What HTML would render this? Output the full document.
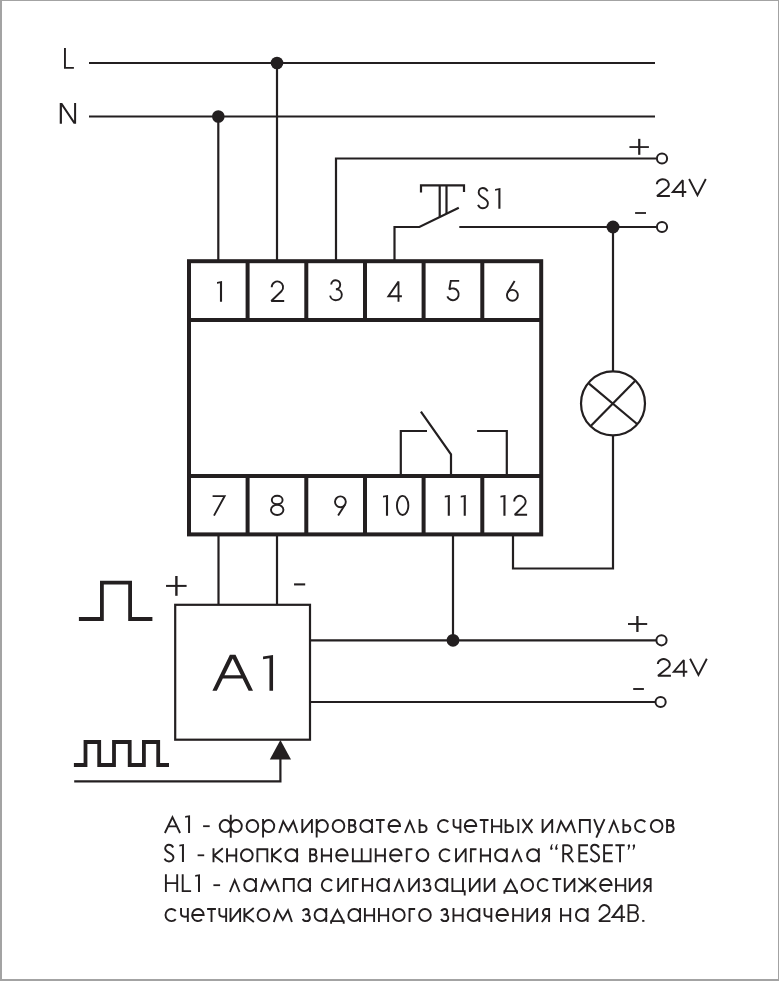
<!DOCTYPE html>
<html><head><meta charset="utf-8">
<style>
html,body{margin:0;padding:0;background:#fff;}
body{width:779px;height:981px;overflow:hidden;position:relative;}
svg{position:absolute;left:0;top:0;}
text{font-family:"Liberation Sans",sans-serif;fill:#231f20;stroke:#fff;}
.g{fill:#231f20;stroke:none;}
</style></head>
<body>
<svg width="779" height="981" viewBox="0 0 779 981">
<rect x="0" y="0" width="779" height="981" fill="#fff"/>
<rect x="0" y="0" width="2" height="981" fill="#a3a3a3"/>
<rect x="0" y="0" width="779" height="1" fill="#a3a3a3"/>
<rect x="778" y="0" width="1" height="981" fill="#a3a3a3"/>
<rect x="0" y="979" width="779" height="2" fill="#a3a3a3"/>
<g fill="none" stroke="#231f20" stroke-width="2.2" stroke-linecap="butt" stroke-linejoin="miter">
  <path d="M89 63 H655"/>
  <path d="M89 116.5 H655"/>
  <path d="M218.3 116.5 V261"/>
  <path d="M277 63 V261"/>
  <path d="M336 261 V158.5 H656"/>
  <path d="M394.5 261 V227 H419.4 L458.8 207.8"/>
  <path d="M421 192.4 V185.3 H464 V192"/>
  <path d="M439.7 185.3 V216.7"/>
  <path d="M446.5 185.3 V213.6"/>
  <path d="M459.3 227 H656"/>
  <path d="M613 227 V371"/>
  <path d="M613 436 V568.5 H513 V535"/>
  <circle cx="613" cy="403.4" r="32"/>
  <path d="M589 383.6 L637.7 424.5"/>
  <path d="M635 381 L591 425.7"/>
  <path d="M400.8 476 V431 H427"/>
  <path d="M451 476 V454.3 L420.9 411.7"/>
  <path d="M477.1 431 H506.8 V476"/>
  <path d="M218.5 534 V605"/>
  <path d="M277 534 V605"/>
  <rect x="175.2" y="604.8" width="134.8" height="134.9"/>
  <path d="M453 534 V640.3"/>
  <path d="M310 640.3 H656"/>
  <path d="M310 702 H655"/>
  <path d="M74.2 781.4 H280.4 V759"/>
  <circle cx="662" cy="158.5" r="5.1" stroke-width="2"/>
  <circle cx="662" cy="227" r="5.1" stroke-width="2"/>
  <circle cx="661.5" cy="640.3" r="5.1" stroke-width="2"/>
  <circle cx="660.6" cy="702" r="5.1" stroke-width="2"/>
  <path d="M78.9 619 H101.9 V582.6 H130.1 V619 H152.4" stroke-width="3.8"/>
  <path d="M73.9 765 H85.5 V742 H99.2 V765 H114 V742 H129.7 V765 H143.9 V742 H158.2 V765 H169" stroke-width="3.8"/>
</g>
<g fill="none" stroke="#231f20" stroke-width="4">
  <rect x="189" y="261.2" width="352.2" height="273.2"/>
  <path d="M189 320 H541.2 M189 476 H541.2"/>
  <path d="M247.6 261 V320 M306.3 261 V320 M365 261 V320 M423.6 261 V320 M482.3 261 V320"/>
  <path d="M247.6 476 V534 M306.3 476 V534 M365 476 V534 M423.6 476 V534 M482.3 476 V534"/>
</g>
<g fill="#231f20">
  <circle cx="277" cy="63" r="6.3"/>
  <circle cx="218.3" cy="116.5" r="6.3"/>
  <circle cx="613" cy="227" r="6.5"/>
  <circle cx="453" cy="640.3" r="6.4"/>
  <path d="M280.4 740 L269.8 759.5 L291 759.5 Z"/>
</g>
<g fill="none" stroke="#231f20" stroke-width="1.9" stroke-linecap="butt" stroke-linejoin="miter" stroke-miterlimit="2.5">

<path d="M64.95 48.04 V67.85 H73.9"/>
<path d="M271.7 287.2 A5.7 5.7 0 1 1 281.4 291.2 L271.3 301 H284.2"/>
<path d="M331.2 284.5 A4.5 4.5 0 1 1 335.9 289.2 A5.9 5.5 0 1 1 330.1 295.6"/>
<path d="M398.5 301.7 V281.6 L388.4 296.2 H401.9"/>
<path d="M459.2 280.85 H450.8 L449.3 289.5 A5.9 5.9 0 1 1 447.3 296.4"/>
<path d="M514.6 280.9 L507.6 292.6"/><circle cx="512.4" cy="295.3" r="5.45"/>
<path d="M212.6 496.1 H224.6 L214 515.6"/>
<ellipse cx="277.2" cy="500.05" rx="5.4" ry="4.25"/><ellipse cx="277.2" cy="509.9" rx="6.2" ry="5.1"/>
<circle cx="340.4" cy="501.8" r="5.4"/><path d="M345.1 504.5 L338.1 515.6"/>
<ellipse cx="402.65" cy="505.4" rx="5.7" ry="9.55"/>
<path d="M514.2 501.55 A5.7 5.7 0 1 1 523.93 505.58 L514.76 514.75 H527.1"/>
<path d="M487.6 191.3 C486.6 189.1 484.8 188 482.8 188 C480.4 188 478.7 189.9 478.7 192.4 C478.7 198.2 487.9 197.6 487.9 203.3 C487.9 206.2 485.7 208.3 482.9 208.3 C480.7 208.3 478.9 206.9 478 204.9"/>
<g id="v24">
<path d="M656.8 184.2 A6 5.1 0 1 1 667.04 188 L657.0 195.95 H669.9"/>
<path d="M682.8 197 V180.2 L672.8 191.95 H686.3"/>
<path d="M689.1 179 L697.45 195.2 L705.8 179"/>
</g>
<use href="#v24" transform="translate(1 479.8)"/>
<path d="M629.43 147.05 H648.9" stroke-width="1.8"/><path d="M639.25 138.85 V154.8" stroke-width="2.2"/>
<path d="M635.1 213 H646" stroke-width="1.8"/>
<path d="M627.97 624 H647.2" stroke-width="1.9"/><path d="M637.4 615.97 V631.95" stroke-width="2.3"/>
<path d="M633.2 689 H643.9" stroke-width="1.9"/>
<path d="M166.04 585.9 H186.6" stroke-width="2.0"/><path d="M176.4 575.97 V595.8" stroke-width="2.4"/>
<path d="M294.05 584.4 H305.2" stroke-width="2.1"/>
<path d="M203.1 826.2 H209.7" stroke-width="1.8"/>
<path d="M197.6 855.3 H204.2" stroke-width="1.8"/>
<path d="M213.4 885.2 H220.1" stroke-width="1.8"/>

</g>
<g>
<path class="g" d="M222.05 281.10 L222.05 301.75 L219.95 301.75 L219.95 283.20 L217.00 283.76 L217.00 282.03 Z"/>
<path class="g" d="M388.05 494.90 L388.05 515.70 L385.95 515.70 L385.95 497.00 L383.00 497.56 L383.00 495.84 Z"/>
<path class="g" d="M449.85 494.90 L449.85 515.70 L447.75 515.70 L447.75 497.00 L444.80 497.56 L444.80 495.84 Z"/>
<path class="g" d="M465.80 494.90 L465.80 515.70 L463.70 515.70 L463.70 497.00 L460.75 497.56 L460.75 495.84 Z"/>
<path class="g" d="M505.50 494.90 L505.50 515.70 L503.40 515.70 L503.40 497.00 L500.45 497.56 L500.45 495.84 Z"/>
<path class="g" d="M500.45 188.00 L500.45 208.75 L498.35 208.75 L498.35 190.10 L495.10 190.66 L495.10 188.93 Z"/>
<path class="g" d="M273.05 654.90 L273.05 690.70 L269.45 690.70 L269.45 658.30 L263.05 659.26 L263.05 656.50 Z"/>
<path class="g" d="M190.05 815.20 L190.05 832.90 L188.05 832.90 L188.05 817.20 L185.15 817.68 L185.15 816.00 Z"/>
<path class="g" d="M183.95 843.90 L183.95 862.00 L181.95 862.00 L181.95 845.90 L179.35 846.39 L179.35 844.71 Z"/>
<path class="g" d="M200.00 874.20 L200.00 891.90 L198.00 891.90 L198.00 876.20 L195.20 876.68 L195.20 875.00 Z"/>
<path class="g" d="M59.74 123.64 L59.74 103.04 L62.2 103.04 L74.1 120.7 L74.1 103.04 L76.1 103.04 L76.1 123.64 L73.66 123.64 L61.93 106.3 L61.93 123.64 Z"/>
<path class="g" d="M212.4 690.7 L229.9 654.75 L235.5 654.75 L253 690.7 L248.6 690.7 L232.7 658.6 L216.8 690.7 Z M223.6 675.2 L241.8 675.2 L243.4 678.4 L222.0 678.4 Z"/>
</g>
<g fill="none" stroke="#231f20" stroke-width="1.9" stroke-linecap="butt" stroke-linejoin="miter" stroke-miterlimit="3">
<path transform="translate(164 833)" d="M 0.9 0 L 8.47 -15.8 L 16.05 0 M 3.73 -6.59 H 13.22"/>
<path transform="translate(218.8 833)" d="M 0.9 -6.95 A 5.52 6.05 0 1 1 11.95 -6.95 A 5.52 6.05 0 1 1 0.9 -6.95 Z M 11.95 -6.95 A 5.52 6.05 0 1 1 23 -6.95 A 5.52 6.05 0 1 1 11.95 -6.95 Z M 11.95 4.8 V -18.2"/>
<path transform="translate(245.68 833)" d="M 0.9 -6.95 A 5.85 6.05 0 1 1 12.6 -6.95 A 5.85 6.05 0 1 1 0.9 -6.95 Z"/>
<path transform="translate(262.15 833)" d="M 0.9 -6.95 A 5.6 6.05 0 1 1 12.1 -6.95 A 5.6 6.05 0 1 1 0.9 -6.95 Z M 0.9 4.6 V -13.9"/>
<path transform="translate(278.13 833)" d="M 1.08 0 L 5.08 -11.6 L 10.15 -2.3 L 15.23 -11.6 L 19.22 0"/>
<path transform="translate(301.4 833)" d="M 0.9 0 V -13.9 M 10.5 0 V -13.9 M 0.9 -0.5 L 10.5 -13.4"/>
<path transform="translate(315.78 833)" d="M 0.9 -6.95 A 5.6 6.05 0 1 1 12.1 -6.95 A 5.6 6.05 0 1 1 0.9 -6.95 Z M 0.9 4.6 V -13.9"/>
<path transform="translate(331.75 833)" d="M 0.9 -6.95 A 5.85 6.05 0 1 1 12.6 -6.95 A 5.85 6.05 0 1 1 0.9 -6.95 Z"/>
<path transform="translate(348.23 833)" d="M 0.9 0 V -13.9 M 0.9 -13 H 4.35 A 2.75 2.75 0 0 1 4.35 -7.51 H 0.9 M 0.9 -7.51 H 4.2 A 3.3 3.3 0 0 1 4.2 -0.9 H 0.9"/>
<path transform="translate(359.6 833)" d="M 0.7 -6.95 A 5.95 6.05 0 1 1 12.6 -6.95 A 5.95 6.05 0 1 1 0.7 -6.95 Z M 12.4 0 V -13.9"/>
<path transform="translate(375.88 833)" d="M 0 -13 H 8.8 M 4.4 0 V -13"/>
<path transform="translate(387.65 833)" d="M 0.9 -6.95 H 12.4 A 5.75 6.05 0 1 0 10.72 -2.67"/>
<path transform="translate(403.93 833)" d="M 1.08 0 L 5.9 -11.8 L 10.72 0"/>
<path transform="translate(418.7 833)" d="M 0.9 0 V -13.9 M 0.9 -7.78 H 4.46 A 3.44 3.44 0 0 1 4.46 -0.9 H 0.9"/>
<path transform="translate(437.1 833)" d="M 11.18 -11 A 5.9 6.05 0 1 0 11.18 -2.9"/>
<path transform="translate(452.68 833)" d="M 0.9 -13.9 V -8.4 C 0.9 -6.2 2.4 -5.3 4.6 -5.3 C 6.6 -5.3 7.7 -6 7.7 -6.6 M 7.7 0 V -13.9"/>
<path transform="translate(463.87 833)" d="M 0.9 -6.95 H 12.4 A 5.75 6.05 0 1 0 10.72 -2.67"/>
<path transform="translate(479.75 833)" d="M 0 -13 H 8.8 M 4.4 0 V -13"/>
<path transform="translate(491.13 833)" d="M 0.9 0 V -13.9 M 10.1 0 V -13.9 M 0.9 -6.65 H 10.1"/>
<path transform="translate(504.72 833)" d="M 0.9 0 V -13.9 M 0.9 -7.78 H 4.86 A 3.44 3.44 0 0 1 4.86 -0.9 H 0.9 M 13.6 0 V -13.9"/>
<path transform="translate(521.8 833)" d="M 0.6 -13.9 L 10.6 0 M 10.6 -13.9 L 0.6 0"/>
<path transform="translate(541.7 833)" d="M 0.9 0 V -13.9 M 10.5 0 V -13.9 M 0.9 -0.5 L 10.5 -13.4"/>
<path transform="translate(555.9 833)" d="M 1.08 0 L 5.08 -11.6 L 10.15 -2.3 L 15.23 -11.6 L 19.22 0"/>
<path transform="translate(579 833)" d="M 0.9 0 V -13 H 10.8 V 0"/>
<path transform="translate(593.5 833)" d="M 0.6 -13.9 L 6.03 -0.4 M 11 -13.9 L 2.78 4.6"/>
<path transform="translate(607.9 833)" d="M 1.08 0 L 5.9 -11.8 L 10.72 0"/>
<path transform="translate(622.5 833)" d="M 0.9 0 V -13.9 M 0.9 -7.78 H 4.46 A 3.44 3.44 0 0 1 4.46 -0.9 H 0.9"/>
<path transform="translate(634.1 833)" d="M 11.18 -11 A 5.9 6.05 0 1 0 11.18 -2.9"/>
<path transform="translate(649.9 833)" d="M 0.9 -6.95 A 5.85 6.05 0 1 1 12.6 -6.95 A 5.85 6.05 0 1 1 0.9 -6.95 Z"/>
<path transform="translate(666.2 833)" d="M 0.9 0 V -13.9 M 0.9 -13 H 4.35 A 2.75 2.75 0 0 1 4.35 -7.51 H 0.9 M 0.9 -7.51 H 4.2 A 3.3 3.3 0 0 1 4.2 -0.9 H 0.9"/>
<path transform="translate(163.85 862.2)" d="M 9.32 -14.68 C 8.43 -16.49 6.81 -17.39 5.02 -17.39 C 2.87 -17.39 1.34 -15.83 1.34 -13.78 C 1.34 -9.02 9.59 -9.52 9.59 -4.84 C 9.59 -2.46 7.62 -0.74 5.11 -0.74 C 3.14 -0.74 1.52 -1.89 0.72 -3.53"/>
<path transform="translate(212.6 862.2)" d="M 0.9 0 V -13.9 M 10.2 -13.9 L 1.5 -6.67 L 10.4 0"/>
<path transform="translate(226.14 862.2)" d="M 0.9 0 V -13.9 M 10.1 0 V -13.9 M 0.9 -6.65 H 10.1"/>
<path transform="translate(240.08 862.2)" d="M 0.9 -6.95 A 5.85 6.05 0 1 1 12.6 -6.95 A 5.85 6.05 0 1 1 0.9 -6.95 Z"/>
<path transform="translate(256.52 862.2)" d="M 0.9 0 V -13 H 10.8 V 0"/>
<path transform="translate(271.16 862.2)" d="M 0.9 0 V -13.9 M 10.2 -13.9 L 1.5 -6.67 L 10.4 0"/>
<path transform="translate(284.7 862.2)" d="M 0.7 -6.95 A 5.95 6.05 0 1 1 12.6 -6.95 A 5.95 6.05 0 1 1 0.7 -6.95 Z M 12.4 0 V -13.9"/>
<path transform="translate(309.2 862.2)" d="M 0.9 0 V -13.9 M 0.9 -13 H 4.35 A 2.75 2.75 0 0 1 4.35 -7.51 H 0.9 M 0.9 -7.51 H 4.2 A 3.3 3.3 0 0 1 4.2 -0.9 H 0.9"/>
<path transform="translate(320.96 862.2)" d="M 0.9 0 V -13.9 M 10.1 0 V -13.9 M 0.9 -6.65 H 10.1"/>
<path transform="translate(335.31 862.2)" d="M 0.9 -6.95 H 12.4 A 5.75 6.05 0 1 0 10.72 -2.67"/>
<path transform="translate(351.97 862.2)" d="M 0.9 -13.9 V -0.9 H 18.6 V -13.9 M 9.75 -13.9 V -0.9"/>
<path transform="translate(374.83 862.2)" d="M 0.9 0 V -13.9 M 10.1 0 V -13.9 M 0.9 -6.65 H 10.1"/>
<path transform="translate(389.19 862.2)" d="M 0.9 -6.95 H 12.4 A 5.75 6.05 0 1 0 10.72 -2.67"/>
<path transform="translate(405.84 862.2)" d="M 0.9 0 V -13 H 6.5"/>
<path transform="translate(415.7 862.2)" d="M 0.9 -6.95 A 5.85 6.05 0 1 1 12.6 -6.95 A 5.85 6.05 0 1 1 0.9 -6.95 Z"/>
<path transform="translate(438.7 862.2)" d="M 11.18 -11 A 5.9 6.05 0 1 0 11.18 -2.9"/>
<path transform="translate(455.15 862.2)" d="M 0.9 0 V -13.9 M 10.5 0 V -13.9 M 0.9 -0.5 L 10.5 -13.4"/>
<path transform="translate(470 862.2)" d="M 0.9 0 V -13 H 6.5"/>
<path transform="translate(479.95 862.2)" d="M 0.9 0 V -13.9 M 10.1 0 V -13.9 M 0.9 -6.65 H 10.1"/>
<path transform="translate(494.4 862.2)" d="M 0.7 -6.95 A 5.95 6.05 0 1 1 12.6 -6.95 A 5.95 6.05 0 1 1 0.7 -6.95 Z M 12.4 0 V -13.9"/>
<path transform="translate(511.15 862.2)" d="M 1.08 0 L 5.9 -11.8 L 10.72 0"/>
<path transform="translate(526.4 862.2)" d="M 0.7 -6.95 A 5.95 6.05 0 1 1 12.6 -6.95 A 5.95 6.05 0 1 1 0.7 -6.95 Z M 12.4 0 V -13.9"/>
<path class="g" transform="translate(550.1 862.2)" d="M 0.1 -13.3 C 0.1 -15.4 0.9 -17.2 2.1 -18.1 L 2.6 -17.6 C 2 -16.8 1.8 -15.9 2 -14.7 A 1.25 1.25 0 1 1 0.1 -13.3 Z M 5.1 -13.3 C 5.1 -15.4 5.9 -17.2 7.1 -18.1 L 7.6 -17.6 C 7 -16.8 6.8 -15.9 7 -14.7 A 1.25 1.25 0 1 1 5.1 -13.3 Z"/>
<path transform="translate(562.3 862.2)" d="M 0.9 0 V -17.8 M 0.9 -16.9 H 5.33 A 4.27 4.27 0 0 1 5.33 -8.37 H 0.9 M 4.73 -8.37 L 11 0"/>
<path transform="translate(578.4 862.2)" d="M 9.6 -16.9 H 0.9 V -0.9 H 9.6 M 0.9 -8.9 H 8.8"/>
<path transform="translate(589.9 862.2)" d="M 8.97 -14.68 C 8.1 -16.49 6.55 -17.39 4.83 -17.39 C 2.76 -17.39 1.29 -15.83 1.29 -13.78 C 1.29 -9.02 9.22 -9.52 9.22 -4.84 C 9.22 -2.46 7.33 -0.74 4.91 -0.74 C 3.02 -0.74 1.47 -1.89 0.69 -3.53"/>
<path transform="translate(603.2 862.2)" d="M 9.6 -16.9 H 0.9 V -0.9 H 9.6 M 0.9 -8.9 H 8.8"/>
<path transform="translate(615.4 862.2)" d="M 0 -16.9 H 9.3 M 4.65 0 V -16.9"/>
<path class="g" transform="translate(627.5 862.2)" d="M 2.6 -16.9 C 2.6 -14.8 1.8 -13 0.6 -12.1 L 0.1 -12.6 C 0.7 -13.4 0.9 -14.3 0.7 -15.5 A 1.25 1.25 0 1 1 2.6 -16.9 Z M 7.6 -16.9 C 7.6 -14.8 6.8 -13 5.6 -12.1 L 5.1 -12.6 C 5.7 -13.4 5.9 -14.3 5.7 -15.5 A 1.25 1.25 0 1 1 7.6 -16.9 Z"/>
<path transform="translate(165 892)" d="M 0.9 0 V -17.8 M 12.2 0 V -17.8 M 0.9 -8.9 H 12.2"/>
<path transform="translate(181.8 892)" d="M 0.9 -17.8 V -0.9 H 9.3"/>
<path transform="translate(228.8 892)" d="M 1.08 0 L 5.9 -11.8 L 10.72 0"/>
<path transform="translate(243.53 892)" d="M 0.7 -6.95 A 5.95 6.05 0 1 1 12.6 -6.95 A 5.95 6.05 0 1 1 0.7 -6.95 Z M 12.4 0 V -13.9"/>
<path transform="translate(259.75 892)" d="M 1.08 0 L 5.08 -11.6 L 10.15 -2.3 L 15.23 -11.6 L 19.22 0"/>
<path transform="translate(282.97 892)" d="M 0.9 0 V -13 H 10.8 V 0"/>
<path transform="translate(297.6 892)" d="M 0.7 -6.95 A 5.95 6.05 0 1 1 12.6 -6.95 A 5.95 6.05 0 1 1 0.7 -6.95 Z M 12.4 0 V -13.9"/>
<path transform="translate(320.9 892)" d="M 11.18 -11 A 5.9 6.05 0 1 0 11.18 -2.9"/>
<path transform="translate(337.3 892)" d="M 0.9 0 V -13.9 M 10.5 0 V -13.9 M 0.9 -0.5 L 10.5 -13.4"/>
<path transform="translate(352.1 892)" d="M 0.9 0 V -13 H 6.5"/>
<path transform="translate(362 892)" d="M 0.9 0 V -13.9 M 10.1 0 V -13.9 M 0.9 -6.65 H 10.1"/>
<path transform="translate(376.4 892)" d="M 0.7 -6.95 A 5.95 6.05 0 1 1 12.6 -6.95 A 5.95 6.05 0 1 1 0.7 -6.95 Z M 12.4 0 V -13.9"/>
<path transform="translate(393.1 892)" d="M 1.08 0 L 5.9 -11.8 L 10.72 0"/>
<path transform="translate(408.3 892)" d="M 0.9 0 V -13.9 M 10.5 0 V -13.9 M 0.9 -0.5 L 10.5 -13.4"/>
<path transform="translate(423.1 892)" d="M 0.4 -10.9 C 1 -12.4 2.4 -13 3.9 -13 C 5.6 -13 6.3 -12 6.3 -10.3 C 6.3 -8.5 5.2 -7.4 3.6 -7.4 H 2.6 M 3.6 -7.4 C 5.9 -7.4 7.4 -6 7.4 -4.1 C 7.4 -2 5.9 -0.9 3.9 -0.9 C 2.2 -0.9 0.8 -1.7 0.2 -3.2"/>
<path transform="translate(434.8 892)" d="M 0.7 -6.95 A 5.95 6.05 0 1 1 12.6 -6.95 A 5.95 6.05 0 1 1 0.7 -6.95 Z M 12.4 0 V -13.9"/>
<path transform="translate(451.5 892)" d="M 0.9 -13.9 V -0.9 H 13.2 V 3.45 M 11.5 -13.9 V -0.9"/>
<path transform="translate(469 892)" d="M 0.9 0 V -13.9 M 10.5 0 V -13.9 M 0.9 -0.5 L 10.5 -13.4"/>
<path transform="translate(483.8 892)" d="M 0.9 0 V -13.9 M 10.5 0 V -13.9 M 0.9 -0.5 L 10.5 -13.4"/>
<path transform="translate(503.5 892)" d="M 1.4 -0.9 L 7.2 -12 L 13 -0.9 M 0 -0.9 H 14.4 M 0.9 -0.9 V 1.8 M 13.5 -0.9 V 1.8"/>
<path transform="translate(520.57 892)" d="M 0.9 -6.95 A 5.85 6.05 0 1 1 12.6 -6.95 A 5.85 6.05 0 1 1 0.9 -6.95 Z"/>
<path transform="translate(536.73 892)" d="M 11.18 -11 A 5.9 6.05 0 1 0 11.18 -2.9"/>
<path transform="translate(552.4 892)" d="M 0 -13 H 8.8 M 4.4 0 V -13"/>
<path transform="translate(563.87 892)" d="M 0.9 0 V -13.9 M 10.5 0 V -13.9 M 0.9 -0.5 L 10.5 -13.4"/>
<path transform="translate(577.93 892)" d="M 9.3 0 V -13.9 M 0.5 -13.9 L 8.1 -6.95 L 0.3 0 M 18.1 -13.9 L 10.5 -6.95 L 18.3 0"/>
<path transform="translate(599.2 892)" d="M 0.9 -6.95 H 12.4 A 5.75 6.05 0 1 0 10.72 -2.67"/>
<path transform="translate(615.17 892)" d="M 0.9 0 V -13.9 M 10.1 0 V -13.9 M 0.9 -6.65 H 10.1"/>
<path transform="translate(628.83 892)" d="M 0.9 0 V -13.9 M 10.5 0 V -13.9 M 0.9 -0.5 L 10.5 -13.4"/>
<path transform="translate(642.9 892)" d="M 7.7 0 V -13.9 M 7.7 -13 H 4.94 A 3.44 3.44 0 0 0 4.94 -6.12 H 7.7 M 5.54 -6.12 L 0.4 0"/>
<path transform="translate(164.6 922)" d="M 11.18 -11 A 5.9 6.05 0 1 0 11.18 -2.9"/>
<path transform="translate(180.14 922)" d="M 0.9 -13.9 V -8.4 C 0.9 -6.2 2.4 -5.3 4.6 -5.3 C 6.6 -5.3 7.7 -6 7.7 -6.6 M 7.7 0 V -13.9"/>
<path transform="translate(191.27 922)" d="M 0.9 -6.95 H 12.4 A 5.75 6.05 0 1 0 10.72 -2.67"/>
<path transform="translate(207.11 922)" d="M 0 -13 H 8.8 M 4.4 0 V -13"/>
<path transform="translate(218.45 922)" d="M 0.9 -13.9 V -8.4 C 0.9 -6.2 2.4 -5.3 4.6 -5.3 C 6.6 -5.3 7.7 -6 7.7 -6.6 M 7.7 0 V -13.9"/>
<path transform="translate(229.59 922)" d="M 0.9 0 V -13.9 M 10.5 0 V -13.9 M 0.9 -0.5 L 10.5 -13.4"/>
<path transform="translate(243.52 922)" d="M 0.9 0 V -13.9 M 10.2 -13.9 L 1.5 -6.67 L 10.4 0"/>
<path transform="translate(256.66 922)" d="M 0.9 -6.95 A 5.85 6.05 0 1 1 12.6 -6.95 A 5.85 6.05 0 1 1 0.9 -6.95 Z"/>
<path transform="translate(272.7 922)" d="M 1.08 0 L 5.08 -11.6 L 10.15 -2.3 L 15.23 -11.6 L 19.22 0"/>
<path transform="translate(302.5 922)" d="M 0.4 -10.9 C 1 -12.4 2.4 -13 3.9 -13 C 5.6 -13 6.3 -12 6.3 -10.3 C 6.3 -8.5 5.2 -7.4 3.6 -7.4 H 2.6 M 3.6 -7.4 C 5.9 -7.4 7.4 -6 7.4 -4.1 C 7.4 -2 5.9 -0.9 3.9 -0.9 C 2.2 -0.9 0.8 -1.7 0.2 -3.2"/>
<path transform="translate(313.85 922)" d="M 0.7 -6.95 A 5.95 6.05 0 1 1 12.6 -6.95 A 5.95 6.05 0 1 1 0.7 -6.95 Z M 12.4 0 V -13.9"/>
<path transform="translate(330.2 922)" d="M 1.4 -0.9 L 7.2 -12 L 13 -0.9 M 0 -0.9 H 14.4 M 0.9 -0.9 V 1.8 M 13.5 -0.9 V 1.8"/>
<path transform="translate(347.65 922)" d="M 0.7 -6.95 A 5.95 6.05 0 1 1 12.6 -6.95 A 5.95 6.05 0 1 1 0.7 -6.95 Z M 12.4 0 V -13.9"/>
<path transform="translate(364 922)" d="M 0.9 0 V -13.9 M 10.1 0 V -13.9 M 0.9 -6.65 H 10.1"/>
<path transform="translate(378.05 922)" d="M 0.9 0 V -13.9 M 10.1 0 V -13.9 M 0.9 -6.65 H 10.1"/>
<path transform="translate(392.1 922)" d="M 0.9 -6.95 A 5.85 6.05 0 1 1 12.6 -6.95 A 5.85 6.05 0 1 1 0.9 -6.95 Z"/>
<path transform="translate(408.65 922)" d="M 0.9 0 V -13 H 6.5"/>
<path transform="translate(418.2 922)" d="M 0.9 -6.95 A 5.85 6.05 0 1 1 12.6 -6.95 A 5.85 6.05 0 1 1 0.9 -6.95 Z"/>
<path transform="translate(440.9 922)" d="M 0.4 -10.9 C 1 -12.4 2.4 -13 3.9 -13 C 5.6 -13 6.3 -12 6.3 -10.3 C 6.3 -8.5 5.2 -7.4 3.6 -7.4 H 2.6 M 3.6 -7.4 C 5.9 -7.4 7.4 -6 7.4 -4.1 C 7.4 -2 5.9 -0.9 3.9 -0.9 C 2.2 -0.9 0.8 -1.7 0.2 -3.2"/>
<path transform="translate(452.57 922)" d="M 0.9 0 V -13.9 M 10.1 0 V -13.9 M 0.9 -6.65 H 10.1"/>
<path transform="translate(466.94 922)" d="M 0.7 -6.95 A 5.95 6.05 0 1 1 12.6 -6.95 A 5.95 6.05 0 1 1 0.7 -6.95 Z M 12.4 0 V -13.9"/>
<path transform="translate(483.61 922)" d="M 0.9 -13.9 V -8.4 C 0.9 -6.2 2.4 -5.3 4.6 -5.3 C 6.6 -5.3 7.7 -6 7.7 -6.6 M 7.7 0 V -13.9"/>
<path transform="translate(495.59 922)" d="M 0.9 -6.95 H 12.4 A 5.75 6.05 0 1 0 10.72 -2.67"/>
<path transform="translate(512.26 922)" d="M 0.9 0 V -13.9 M 10.1 0 V -13.9 M 0.9 -6.65 H 10.1"/>
<path transform="translate(526.63 922)" d="M 0.9 0 V -13.9 M 10.5 0 V -13.9 M 0.9 -0.5 L 10.5 -13.4"/>
<path transform="translate(541.4 922)" d="M 7.7 0 V -13.9 M 7.7 -13 H 4.94 A 3.44 3.44 0 0 0 4.94 -6.12 H 7.7 M 5.54 -6.12 L 0.4 0"/>
<path transform="translate(560.1 922)" d="M 0.9 0 V -13.9 M 10.1 0 V -13.9 M 0.9 -6.65 H 10.1"/>
<path transform="translate(575.2 922)" d="M 0.7 -6.95 A 5.95 6.05 0 1 1 12.6 -6.95 A 5.95 6.05 0 1 1 0.7 -6.95 Z M 12.4 0 V -13.9"/>
<path transform="translate(598.3 922)" d="M 0.9 -11.7 A 5.2 5.2 0 1 1 9.78 -8.02 L 0.72 -0.9 H 12.2"/>
<path transform="translate(611.7 922)" d="M 10 0 V -16.8 L 0.9 -4.9 H 13.4"/>
<path transform="translate(627.6 922)" d="M 0.9 0 V -17.8 M 0.9 -16.9 H 6.46 A 3.64 3.64 0 0 1 6.46 -9.61 H 0.9 M 0.9 -9.61 H 6.24 A 4.36 4.36 0 0 1 6.24 -0.9 H 0.9"/>
<path transform="translate(642.2 922)" d="M 0 -1.1 H 2.2"/>
</g>
</svg>
</body></html>
